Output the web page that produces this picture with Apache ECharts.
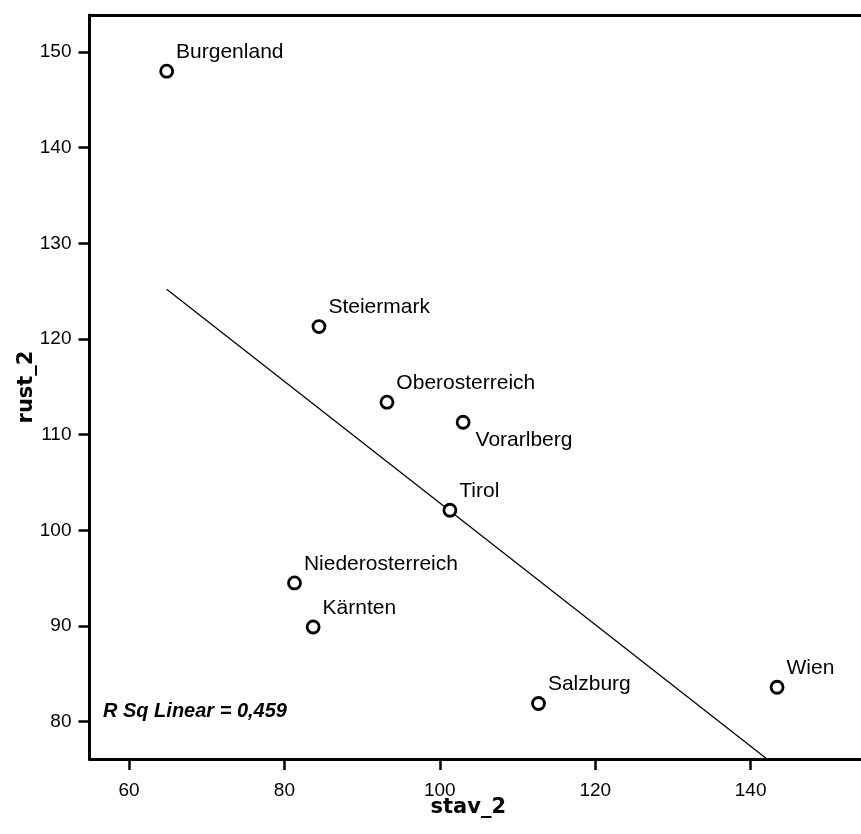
<!DOCTYPE html>
<html>
<head>
<meta charset="utf-8">
<script src="https://cdn.jsdelivr.net/npm/echarts@6/dist/echarts.min.js"></script>
<style>
html,body{margin:0;padding:0;background:#fff;}
#chart{width:861px;height:834px;}
</style>
</head>
<body>
<div id="chart"></div>
<script>
// Data
var regions = ['Burgenland','Steiermark','Oberosterreich','Vorarlberg','Tirol','Niederosterreich','Kärnten','Salzburg','Wien'];
var stav2   = [64.85, 84.45, 93.2, 103.0, 101.3, 81.3, 83.7, 112.7, 143.4];
var rust2   = [148.0, 121.3, 113.4, 111.3, 102.1, 94.5, 89.9, 81.9, 83.6];
var fitLineX = [64.85, 142.1];
var fitLineY = [125.2, 76.1];
var xTicks = [60, 80, 100, 120, 140];
var yTicks = [80, 90, 100, 110, 120, 130, 140, 150];
var rSqText = 'R Sq Linear = 0,459';

var pts = regions.map(function(n, i){
  var d = {name: n, value: [stav2[i], rust2[i]]};
  if (n === 'Vorarlberg') d.label = {offset: [3, 18]};
  return d;
});
var linePts = fitLineX.map(function(x, i){ return [x, fitLineY[i]]; });

var chart = echarts.init(document.getElementById('chart'), null, {renderer: 'canvas'});
var axisFont = {color: '#000', fontFamily: 'Liberation Sans, Arial, sans-serif', fontSize: 19};
var titleFont = {color: '#000', fontFamily: 'DejaVu Sans, Verdana, sans-serif', fontWeight: 'bold', fontSize: 21};
var XMIN = 54.92, XMAX = 154.2;

chart.setOption({
  animation: false,
  backgroundColor: '#fff',
  grid: {left: 89.5, top: 15, right: 0, bottom: 75, show: false},
  xAxis: [{
    type: 'value', min: XMIN, max: XMAX,
    name: 'stav_2', nameLocation: 'middle', nameGap: 38, nameMoveOverlap: false,
    nameTextStyle: Object.assign({padding: [0, 14, 0, 0]}, titleFont),
    axisLine: {show: true, lineStyle: {color: '#000', width: 3}},
    axisTick: {show: true, length: 11, lineStyle: {color: '#000', width: 2.5}, customValues: xTicks},
    axisLabel: Object.assign({margin: 22, customValues: xTicks}, axisFont),
    splitLine: {show: false}
  }, {
    type: 'value', min: XMIN, max: XMAX, position: 'top',
    axisLine: {show: true, lineStyle: {color: '#000', width: 3}},
    axisTick: {show: false}, axisLabel: {show: false}, splitLine: {show: false}
  }],
  yAxis: {
    type: 'value', min: 76.1, max: 153.87,
    name: 'rust_2', nameLocation: 'middle', nameGap: 52, nameMoveOverlap: false,
    nameTextStyle: titleFont,
    axisLine: {show: true, lineStyle: {color: '#000', width: 3}},
    axisTick: {show: true, length: 11, lineStyle: {color: '#000', width: 2.5}, customValues: yTicks},
    axisLabel: Object.assign({margin: 18, customValues: yTicks}, axisFont),
    splitLine: {show: false}
  },
  series: [
    {
      type: 'line', data: linePts, showSymbol: false, symbol: 'none',
      lineStyle: {color: '#000', width: 1.3}, z: 2, silent: true
    },
    {
      type: 'scatter', data: pts, symbol: 'circle', symbolSize: 12,
      itemStyle: {color: '#fff', borderColor: '#000', borderWidth: 2.8, opacity: 1},
      label: {
        show: true, position: 'right', distance: 2, offset: [0, -19],
        formatter: '{b}', color: '#000', opacity: 1, fontSize: 21, textBorderWidth: 0,
        fontFamily: 'Liberation Sans, Arial, sans-serif'
      },
      z: 3
    }
  ],
  graphic: [{
    type: 'text', left: 103, top: 701,
    style: {text: rSqText, fill: '#000', font: 'italic bold 20px "Liberation Sans", Arial, sans-serif'}
  }]
});
</script>
</body>
</html>
